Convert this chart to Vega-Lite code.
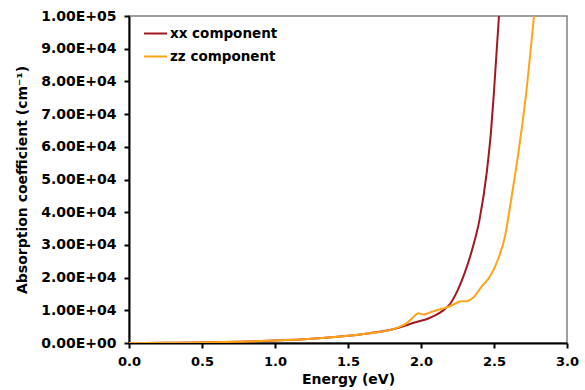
{
  "$schema": "https://vega.github.io/schema/vega-lite/v6.json",
  "width": 438,
  "height": 327,
  "autosize": "none",
  "padding": {"left": 129, "top": 16, "right": 18, "bottom": 47},
  "background": "white",
  "config": {
    "font": "DejaVu Sans",
    "view": {"stroke": "#808080", "strokeWidth": 1.5},
    "axis": {
      "grid": false,
      "domainColor": "black",
      "domainWidth": 2,
      "tickColor": "black",
      "tickWidth": 2,
      "tickSize": 5,
      "labelFont": "DejaVu Sans",
      "labelFontWeight": "bold",
      "labelColor": "black",
      "titleFont": "DejaVu Sans",
      "titleFontWeight": "bold",
      "titleColor": "black",
      "titleFontSize": 14
    }
  },
  "data": {
    "values": [
      {"E": 0.0, "a": 0, "c": "xx component"},
      {"E": 0.25, "a": 50, "c": "xx component"},
      {"E": 0.5, "a": 180, "c": "xx component"},
      {"E": 0.75, "a": 400, "c": "xx component"},
      {"E": 1.0, "a": 750, "c": "xx component"},
      {"E": 1.25, "a": 1300, "c": "xx component"},
      {"E": 1.5, "a": 2200, "c": "xx component"},
      {"E": 1.65, "a": 3000, "c": "xx component"},
      {"E": 1.8, "a": 4100, "c": "xx component"},
      {"E": 1.9, "a": 5400, "c": "xx component"},
      {"E": 1.95, "a": 6200, "c": "xx component"},
      {"E": 2.05, "a": 7500, "c": "xx component"},
      {"E": 2.1, "a": 8500, "c": "xx component"},
      {"E": 2.15, "a": 9900, "c": "xx component"},
      {"E": 2.2, "a": 12000, "c": "xx component"},
      {"E": 2.25, "a": 16000, "c": "xx component"},
      {"E": 2.3, "a": 21500, "c": "xx component"},
      {"E": 2.35, "a": 28500, "c": "xx component"},
      {"E": 2.4, "a": 37500, "c": "xx component"},
      {"E": 2.45, "a": 52000, "c": "xx component"},
      {"E": 2.48, "a": 65000, "c": "xx component"},
      {"E": 2.5, "a": 77000, "c": "xx component"},
      {"E": 2.534, "a": 100000, "c": "xx component"},
      {"E": 0.0, "a": 0, "c": "zz component"},
      {"E": 0.25, "a": 50, "c": "zz component"},
      {"E": 0.5, "a": 180, "c": "zz component"},
      {"E": 0.75, "a": 400, "c": "zz component"},
      {"E": 1.0, "a": 750, "c": "zz component"},
      {"E": 1.25, "a": 1300, "c": "zz component"},
      {"E": 1.5, "a": 2200, "c": "zz component"},
      {"E": 1.65, "a": 3000, "c": "zz component"},
      {"E": 1.8, "a": 4100, "c": "zz component"},
      {"E": 1.856, "a": 5000, "c": "zz component"},
      {"E": 1.9, "a": 6000, "c": "zz component"},
      {"E": 1.947, "a": 7900, "c": "zz component"},
      {"E": 1.98, "a": 9100, "c": "zz component"},
      {"E": 2.016, "a": 8700, "c": "zz component"},
      {"E": 2.06, "a": 9300, "c": "zz component"},
      {"E": 2.107, "a": 10000, "c": "zz component"},
      {"E": 2.164, "a": 10700, "c": "zz component"},
      {"E": 2.22, "a": 11700, "c": "zz component"},
      {"E": 2.267, "a": 12700, "c": "zz component"},
      {"E": 2.313, "a": 12800, "c": "zz component"},
      {"E": 2.358, "a": 13900, "c": "zz component"},
      {"E": 2.416, "a": 17300, "c": "zz component"},
      {"E": 2.473, "a": 20400, "c": "zz component"},
      {"E": 2.518, "a": 24500, "c": "zz component"},
      {"E": 2.575, "a": 32600, "c": "zz component"},
      {"E": 2.614, "a": 42800, "c": "zz component"},
      {"E": 2.65, "a": 53000, "c": "zz component"},
      {"E": 2.719, "a": 75900, "c": "zz component"},
      {"E": 2.774, "a": 100000, "c": "zz component"}
    ]
  },
  "mark": {"type": "line", "strokeWidth": 2, "interpolate": "monotone", "clip": true},
  "encoding": {
    "x": {
      "field": "E",
      "type": "quantitative",
      "scale": {"domain": [0, 3], "nice": false},
      "axis": {
        "title": "Energy (eV)",
        "values": [0, 0.5, 1, 1.5, 2, 2.5, 3],
        "format": ".1f",
        "labelFontSize": 13,
        "labelPadding": 7,
        "titlePadding": 4,
        "labelFlush": false
      }
    },
    "y": {
      "field": "a",
      "type": "quantitative",
      "scale": {"domain": [0, 100000], "nice": false},
      "axis": {
        "title": "Absorption coefficient (cm⁻¹)",
        "values": [0, 10000, 20000, 30000, 40000, 50000, 60000, 70000, 80000, 90000, 100000],
        "labelExpr": "datum.value == 0 ? '0.00E+00' : (datum.value >= 100000 ? '1.00E+05' : format(datum.value / 10000, '.2f') + 'E+04')",
        "labelFontSize": 14,
        "labelPadding": 8,
        "titlePadding": 11,
        "labelFlush": false
      }
    },
    "color": {
      "field": "c",
      "type": "nominal",
      "scale": {"domain": ["xx component", "zz component"], "range": ["#A01820", "#FFA318"]},
      "legend": {
        "title": null,
        "orient": "none",
        "legendX": 14,
        "legendY": 5,
        "padding": 0,
        "symbolType": "stroke",
        "symbolSize": 529,
        "symbolStrokeWidth": 2,
        "labelFont": "DejaVu Sans",
        "labelFontWeight": "bold",
        "labelFontSize": 13.5,
        "labelColor": "black",
        "labelOffset": 2,
        "rowPadding": 4
      }
    }
  }
}
